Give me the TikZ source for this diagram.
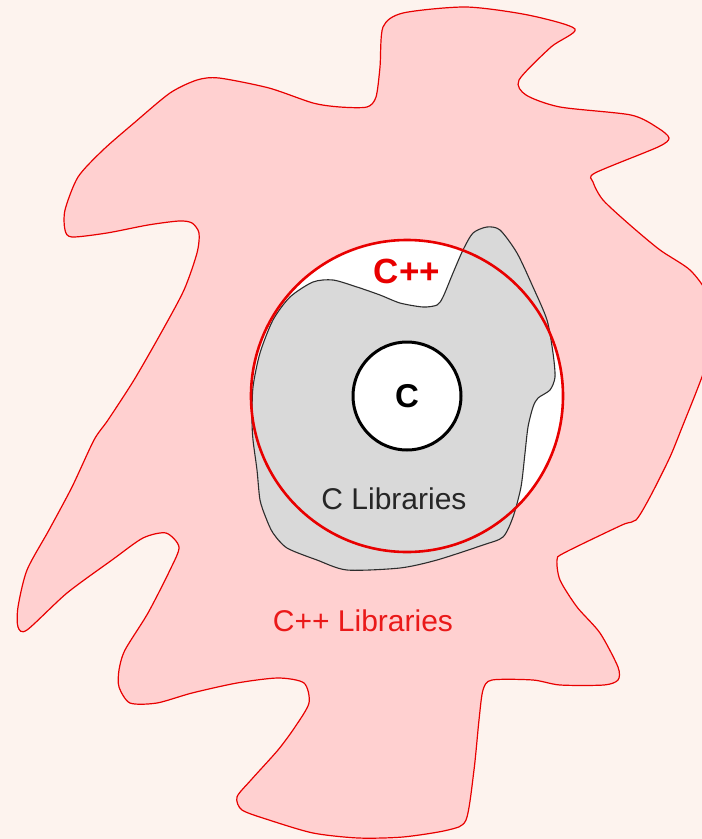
\documentclass[tikz,border=0pt]{standalone}
\usepackage{fontspec}
\setmainfont{Liberation Sans}
\usetikzlibrary{positioning}
\definecolor{bgpeach}{RGB}{253,243,238}
\definecolor{libpink}{RGB}{255,208,208}
\definecolor{cppred}{RGB}{232,0,0}
\definecolor{libgray}{RGB}{217,217,217}
\definecolor{edgedark}{RGB}{45,45,45}
\tikzset{
  blob/.style={smooth cycle,tension=0.45},
  cppring/.style={circle,draw=cppred,line width=2.6pt,minimum size=312pt,inner sep=0pt},
  cring/.style={circle,draw=black,fill=white,line width=3pt,minimum size=108pt,inner sep=0pt,
                font=\fontsize{33}{36}\selectfont\bfseries},
  libtext/.style={font=\fontsize{30}{36}\selectfont},
}

\begin{document}
\begin{tikzpicture}[x=1pt,y=-1pt]
        \useasboundingbox (0,0) rectangle (702,839);
        \clip (0,0) rectangle (702,839);
        \fill[bgpeach] (0,0) rectangle (702,839);
        \filldraw[fill=libpink,draw=cppred,line width=1.2pt] plot[blob] coordinates {
              (383,27) (403,13) (466,7) (528,15) (575,29) (551,47) (519,80) (526,95)
              (560,107) (631,115) (658,128) (669,138) (658,147) (595,173) (593,182)
              (603,200) (630,225) (660,250) (690,270) (708,295) (714,330) (706,365)
              (697,390) (683,425) (670,457) (650,497) (636,520) (622,525) (564,553)
              (557,560) (560,580) (577,607)
              (600,633) (618,667) (618,680) (604,685) (560,685) (533,680) (492,680)
              (483,690) (479,720) (474,770) (466,820) (448,830) (403,837) (358,838)
              (313,833) (269,820) (242,810) (237,797) (251,780) (278,750) (295,727)
              (309,703) (304,683) (278,678) (237,683) (192,693) (157,703) (130,703)
              (119,687) (119,670) (125,650) (148,613) (170,570) (179,547) (166,533)
              (143,538) (112,560) (67,593) (27,630) (18,627) (18,607) (27,570)
              (49,530) (72,487) (94,440) (108,420) (134,380) (161,333) (184,290)
              (197,253) (199,233) (192,223) (179,221) (148,225) (107,233) (72,237)
              (65,230) (65,210) (78,177) (103,150) (134,123) (170,93) (197,80)
              (219,78) (269,88) (313,103) (340,107) (367,107) (376,97) (380,67)};
        \node[cppring,fill=white,draw=none] (cpp) at (407,396) {};
        \filldraw[fill=libgray,draw=edgedark,line width=1.1pt] plot[blob] coordinates {
              (487,227) (500,230) (517,253) (533,287) (547,320) (553,353) (555,377)
              (550,390) (538,398) (533,407) (528,427) (525,453) (521,487) (513,517)
              (503,537) (483,545) (437,560) (400,568) (347,570) (317,560) (287,548)
              (273,533) (266,518) (260,500) (257,470) (253,440) (252,420)
              (253,387) (260,353) (273,320) (290,297) (313,282) (333,280) (357,287)
              (380,295) (400,303) (423,307) (437,305) (443,297) (453,273) (463,250)
              (473,233)};
        \node[cppring] (cppedge) at (cpp.center) {};
        \node[cring] (c) at (cpp.center) {C};
        \node[text=cppred,font=\fontsize{35}{40}\selectfont\bfseries] (cpplabel)
              at (407,271) {C++};
        \node[libtext,text=black!85] (clib) at (394,499) {C Libraries};
        \node[libtext,text=cppred!90] (cpplib) at (363,621) {C++ Libraries};
      \end{tikzpicture}
\end{document}
